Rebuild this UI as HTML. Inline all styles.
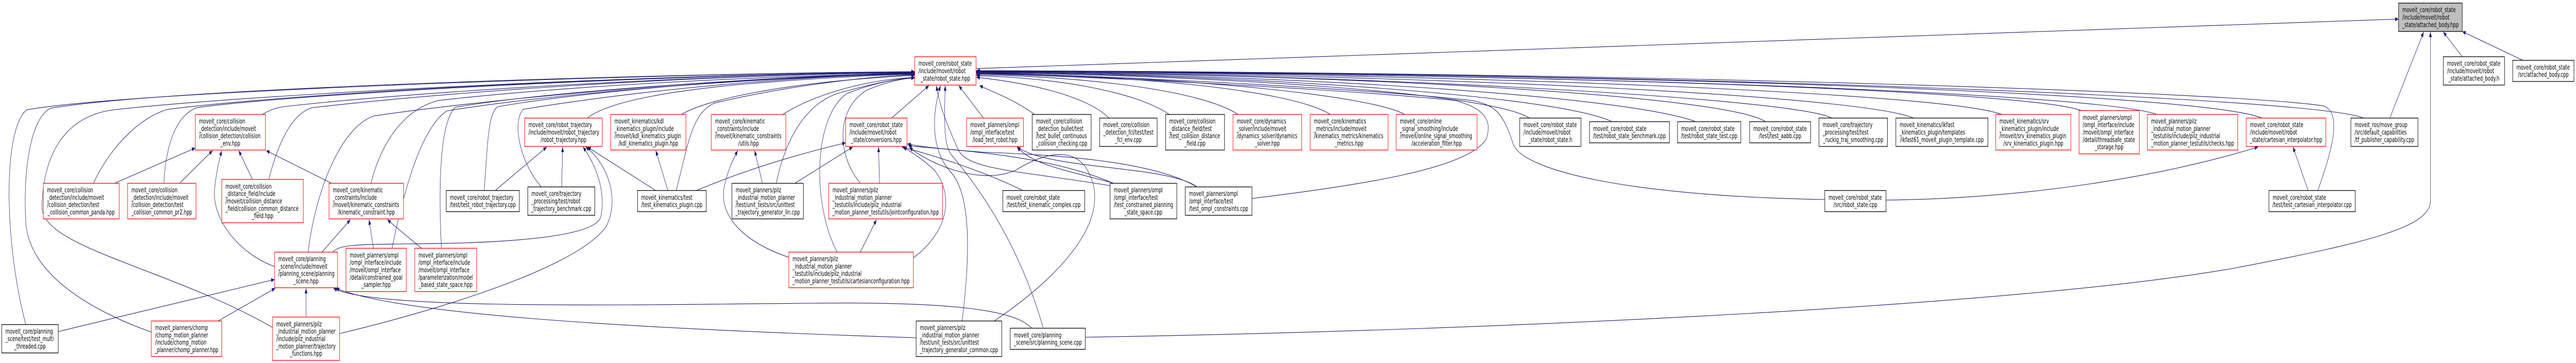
<!DOCTYPE html>
<html><head><meta charset="utf-8"><style>
html,body{margin:0;padding:0;background:#fff;overflow:hidden;}
svg{display:block;width:100vw;height:704px;}
.r{fill:#fff;stroke:#ff0000;stroke-width:1.3}
.b{fill:#fff;stroke:#000;stroke-width:1.3}
.g{fill:#bfbfbf;stroke:#000;stroke-width:1.3}
text{font-family:"DejaVu Sans","Liberation Sans",sans-serif;font-size:13px;fill:#000}
.m{text-anchor:middle}
.e{fill:none;stroke:#191970;stroke-width:1.1}
</style></head><body>
<svg viewBox="0 0 7609 704" preserveAspectRatio="none" xmlns="http://www.w3.org/2000/svg">
<defs><marker id="a" markerUnits="userSpaceOnUse" markerWidth="12" markerHeight="9" refX="10" refY="4" orient="auto" overflow="visible"><path d="M0,0 L10,4 L0,8 z" fill="#191970"/></marker></defs>
<g class="e" marker-end="url(#a)">
<path d="M76,629 C12,470 8,250 79,213 C400,175 2000,142 2702,139"/>
<path d="M447,644 C300,610 85,540 76,430 C68,330 90,230 149,210 C500,170 2000,142 2702,139"/>
<path d="M805,635 C500,520 120,480 124,400 C128,300 190,222 348,212 C800,180 2000,143 2702,140"/>
<path d="M276,355 C330,280 420,225 497,212 C900,178 2000,143 2702,140"/>
<path d="M484,355 C490,280 520,225 580,209 C900,180 2000,144 2702,140"/>
<path d="M775,222 C800,212 820,208 850,206 C1200,180 2000,146 2702,141"/>
<path d="M794,348 C820,280 860,222 920,209 C1300,180 2000,146 2702,141"/>
<path d="M910,489 C930,380 1000,250 1103,225 C1400,196 2100,150 2702,142"/>
<path d="M1096,355 C1120,290 1180,215 1294,195 C1600,172 2100,150 2702,142"/>
<path d="M1158,481 C1190,380 1240,250 1320,215 C1600,185 2150,152 2702,143"/>
<path d="M1304,481 C1296,380 1295,240 1345,208 C1600,180 2150,152 2702,143"/>
<path d="M1735,229 C1800,195 2000,175 2200,163 C2400,152 2600,145 2702,144"/>
<path d="M1430,370 C1440,290 1440,220 1470,207 C1700,180 2200,150 2702,141"/>
<path d="M1600,363 C1540,320 1510,240 1545,212 C1800,185 2200,152 2702,142"/>
<path d="M2013,222 C2080,195 2300,160 2702,146"/>
<path d="M1997,370 C2030,290 2040,220 2110,200 C2300,170 2550,148 2702,145"/>
<path d="M2312,222 C2400,185 2550,155 2702,150"/>
<path d="M2293,355 C2320,270 2380,200 2480,180 C2580,162 2650,152 2702,151"/>
<path d="M2541,355 C2470,300 2470,210 2560,175 C2620,158 2670,152 2702,151"/>
<path d="M2473,489 C2400,400 2400,230 2500,182 C2580,160 2660,152 2702,151"/>
<path d="M2635,228 L2744,166"/>
<path d="M2905,229 L2832,166"/>
<path d="M2842,622 C2865,500 2870,380 2810,335 C2760,300 2745,240 2778,166"/>
<path d="M3081,635 C3000,450 2860,340 2810,300 C2785,280 2790,220 2792,166"/>
<path d="M3279,360 C3000,330 2860,330 2830,290 C2810,260 2775,210 2766,166"/>
<path d="M3056,222 C3000,195 2940,180 2893,166"/>
<path d="M3276,229 C3200,180 3000,158 2884,150"/>
<path d="M3454,222 C3350,175 3100,150 2884,147"/>
<path d="M3657,222 C3550,175 3200,148 2884,145"/>
<path d="M3930,222 C3800,170 3300,145 2884,143"/>
<path d="M4149,222 C4050,185 3500,148 2884,142"/>
<path d="M4518,229 C4400,180 3600,146 2884,141"/>
<path d="M4762,236 C4600,185 3700,145 2884,140"/>
<path d="M5009,236 C4800,185 3800,144 2884,140"/>
<path d="M5215,236 C5100,185 4000,144 2884,139"/>
<path d="M5411,229 C5300,190 4000,143 2884,139"/>
<path d="M5652,229 C5500,185 4200,143 2884,139"/>
<path d="M5913,222 C5750,180 4300,142 2884,138"/>
<path d="M6150,215 C6000,175 4500,142 2884,138"/>
<path d="M6371,222 C6200,180 4600,142 2884,138"/>
<path d="M6682,229 C6500,180 4800,141 2884,138"/>
<path d="M6981,229 C6850,190 5000,141 2884,137"/>
<path d="M6846,370 C6890,290 6920,215 6860,205 C6600,180 5000,141 2884,137"/>
<path d="M5390,387 C4800,380 4500,330 4470,280 C4440,220 4420,205 4350,195 C4000,170 3300,148 2884,141"/>
<path d="M3698,385 C4000,360 4330,330 4390,270 C4410,230 4380,210 4300,195 C4000,175 3300,150 2884,143"/>
<path d="M3206,654 C4500,640 6000,590 6600,520 C7000,470 7179,440 7179,390 L7179,62"/>
<path d="M7059,229 L7159,62"/>
<path d="M7273,110 L7217,62"/>
<path d="M7452,117 L7273,61"/>
<path d="M2884,133 L7085,37"/>
<path d="M5571,388 C6000,385 6400,340 6670,285"/>
<path d="M6818,370 L6773,285"/>
<path d="M340,355 L577,287"/>
<path d="M531,355 L628,292"/>
<path d="M746,348 L705,292"/>
<path d="M978,355 L786,292"/>
<path d="M811,517 C700,490 620,420 635,360 C640,330 648,310 655,292"/>
<path d="M951,489 L1035,426"/>
<path d="M1103,481 L1090,426"/>
<path d="M1244,481 L1144,426"/>
<path d="M172,643 L811,542"/>
<path d="M643,623 L813,559"/>
<path d="M904,615 L904,559"/>
<path d="M3048,637 C3000,600 2800,585 2400,588 C1800,592 1100,600 985,559"/>
<path d="M2706,655 C2000,640 1200,615 992,559"/>
<path d="M1462,370 L1615,285"/>
<path d="M1659,363 L1662,285"/>
<path d="M1938,370 L1735,285"/>
<path d="M983,489 C1000,475 1050,474 1200,473 C1500,472 1760,460 1775,420 C1790,370 1760,320 1722,285"/>
<path d="M1003,647 C1300,600 1700,520 1790,440 C1830,390 1800,320 1730,285"/>
<path d="M1973,370 L1937,292"/>
<path d="M2055,370 C2200,330 2350,300 2498,277"/>
<path d="M2330,499 C2200,470 2120,420 2140,360 C2150,330 2165,310 2179,292"/>
<path d="M2252,355 L2229,292"/>
<path d="M2349,355 L2519,285"/>
<path d="M2598,355 L2595,285"/>
<path d="M3023,370 C2900,330 2750,300 2664,285"/>
<path d="M3290,356 C3100,300 2800,290 2683,283"/>
<path d="M3537,363 C3400,310 3100,300 2900,295 C2800,290 2720,285 2680,279"/>
<path d="M2698,500 C2800,450 2820,380 2760,330 C2720,305 2690,295 2668,285"/>
<path d="M2936,623 C3100,550 3260,450 3230,360 C3200,280 3100,290 3000,330 C2900,360 2750,320 2686,286"/>
<path d="M2541,489 L2589,426"/>
<path d="M3288,355 C3150,330 3050,320 3004,285"/>
<path d="M3537,363 C3450,320 3100,330 3004,285"/>
</g>

<rect class="g" x="7085" y="6" width="188" height="55"/>
<text><tspan x="7096" y="23.7">moveit_core/robot_state</tspan><tspan x="7096" y="38">/include/moveit/robot</tspan><tspan x="7179" y="52.3" class="m">_state/attached_body.hpp</tspan></text>

<rect class="r" x="2702" y="110" width="181" height="55"/>
<text><tspan x="2713" y="127.7">moveit_core/robot_state</tspan><tspan x="2713" y="142">/include/moveit/robot</tspan><tspan x="2792.5" y="156.3" class="m">_state/robot_state.hpp</tspan></text>

<rect class="b" x="7217" y="110" width="181" height="55"/>
<text><tspan x="7228" y="127.7">moveit_core/robot_state</tspan><tspan x="7228" y="142">/include/moveit/robot</tspan><tspan x="7307.5" y="156.3" class="m">_state/attached_body.h</tspan></text>

<rect class="b" x="7422" y="117" width="181" height="41"/>
<text><tspan x="7433" y="134.9">moveit_core/robot_state</tspan><tspan x="7512.5" y="149.2" class="m">/src/attached_body.cpp</tspan></text>

<rect class="r" x="577" y="222" width="207" height="69"/>
<text><tspan x="588" y="239.6">moveit_core/collision</tspan><tspan x="588" y="253.9">_detection/include/moveit</tspan><tspan x="588" y="268.2">/collision_detection/collision</tspan><tspan x="680.5" y="282.5" class="m">_env.hpp</tspan></text>

<rect class="r" x="1550" y="229" width="229" height="55"/>
<text><tspan x="1561" y="246.7">moveit_core/robot_trajectory</tspan><tspan x="1561" y="261">/include/moveit/robot_trajectory</tspan><tspan x="1664.5" y="275.3" class="m">/robot_trajectory.hpp</tspan></text>

<rect class="r" x="1804" y="222" width="222" height="69"/>
<text><tspan x="1815" y="239.6">moveit_kinematics/kdl</tspan><tspan x="1815" y="253.9">_kinematics_plugin/include</tspan><tspan x="1815" y="268.2">/moveit/kdl_kinematics_plugin</tspan><tspan x="1915" y="282.5" class="m">/kdl_kinematics_plugin.hpp</tspan></text>

<rect class="r" x="2101" y="222" width="220" height="69"/>
<text><tspan x="2112" y="239.6">moveit_core/kinematic</tspan><tspan x="2112" y="253.9">_constraints/include</tspan><tspan x="2112" y="268.2">/moveit/kinematic_constraints</tspan><tspan x="2211" y="282.5" class="m">/utils.hpp</tspan></text>

<rect class="r" x="2498" y="229" width="181" height="55"/>
<text><tspan x="2509" y="246.7">moveit_core/robot_state</tspan><tspan x="2509" y="261">/include/moveit/robot</tspan><tspan x="2588.5" y="275.3" class="m">_state/conversions.hpp</tspan></text>

<rect class="r" x="2855" y="229" width="168" height="55"/>
<text><tspan x="2866" y="246.7">moveit_planners/ompl</tspan><tspan x="2866" y="261">/ompl_interface/test</tspan><tspan x="2939" y="275.3" class="m">/load_test_robot.hpp</tspan></text>

<rect class="b" x="3049" y="222" width="174" height="69"/>
<text><tspan x="3060" y="239.6">moveit_core/collision</tspan><tspan x="3060" y="253.9">_detection_bullet/test</tspan><tspan x="3060" y="268.2">/test_bullet_continuous</tspan><tspan x="3136" y="282.5" class="m">_collision_checking.cpp</tspan></text>

<rect class="b" x="3248" y="229" width="170" height="55"/>
<text><tspan x="3259" y="246.7">moveit_core/collision</tspan><tspan x="3259" y="261">_detection_fcl/test/test</tspan><tspan x="3333" y="275.3" class="m">_fcl_env.cpp</tspan></text>

<rect class="b" x="3443" y="222" width="174" height="69"/>
<text><tspan x="3454" y="239.6">moveit_core/collision</tspan><tspan x="3454" y="253.9">_distance_field/test</tspan><tspan x="3454" y="268.2">/test_collision_distance</tspan><tspan x="3530" y="282.5" class="m">_field.cpp</tspan></text>

<rect class="r" x="3642" y="222" width="203" height="69"/>
<text><tspan x="3653" y="239.6">moveit_core/dynamics</tspan><tspan x="3653" y="253.9">_solver/include/moveit</tspan><tspan x="3653" y="268.2">/dynamics_solver/dynamics</tspan><tspan x="3743.5" y="282.5" class="m">_solver.hpp</tspan></text>

<rect class="r" x="3870" y="222" width="230" height="69"/>
<text><tspan x="3881" y="239.6">moveit_core/kinematics</tspan><tspan x="3881" y="253.9">_metrics/include/moveit</tspan><tspan x="3881" y="268.2">/kinematics_metrics/kinematics</tspan><tspan x="3985" y="282.5" class="m">_metrics.hpp</tspan></text>

<rect class="r" x="4124" y="222" width="239" height="69"/>
<text><tspan x="4135" y="239.6">moveit_core/online</tspan><tspan x="4135" y="253.9">_signal_smoothing/include</tspan><tspan x="4135" y="268.2">/moveit/online_signal_smoothing</tspan><tspan x="4243.5" y="282.5" class="m">/acceleration_filter.hpp</tspan></text>

<rect class="b" x="4489" y="229" width="181" height="55"/>
<text><tspan x="4500" y="246.7">moveit_core/robot_state</tspan><tspan x="4500" y="261">/include/moveit/robot</tspan><tspan x="4579.5" y="275.3" class="m">_state/robot_state.h</tspan></text>

<rect class="b" x="4695" y="236" width="236" height="41"/>
<text><tspan x="4706" y="253.9">moveit_core/robot_state</tspan><tspan x="4813" y="268.2" class="m">/test/robot_state_benchmark.cpp</tspan></text>

<rect class="b" x="4955" y="236" width="187" height="41"/>
<text><tspan x="4966" y="253.9">moveit_core/robot_state</tspan><tspan x="5048.5" y="268.2" class="m">/test/robot_state_test.cpp</tspan></text>

<rect class="b" x="5168" y="236" width="180" height="41"/>
<text><tspan x="5179" y="253.9">moveit_core/robot_state</tspan><tspan x="5258" y="268.2" class="m">/test/test_aabb.cpp</tspan></text>

<rect class="b" x="5373" y="229" width="202" height="55"/>
<text><tspan x="5384" y="246.7">moveit_core/trajectory</tspan><tspan x="5384" y="261">_processing/test/test</tspan><tspan x="5474" y="275.3" class="m">_ruckig_traj_smoothing.cpp</tspan></text>

<rect class="b" x="5600" y="229" width="272" height="55"/>
<text><tspan x="5611" y="246.7">moveit_kinematics/ikfast</tspan><tspan x="5611" y="261">_kinematics_plugin/templates</tspan><tspan x="5736" y="275.3" class="m">/ikfast61_moveit_plugin_template.cpp</tspan></text>

<rect class="r" x="5895" y="222" width="222" height="69"/>
<text><tspan x="5906" y="239.6">moveit_kinematics/srv</tspan><tspan x="5906" y="253.9">_kinematics_plugin/include</tspan><tspan x="5906" y="268.2">/moveit/srv_kinematics_plugin</tspan><tspan x="6006" y="282.5" class="m">/srv_kinematics_plugin.hpp</tspan></text>

<rect class="r" x="6141" y="214.5" width="178" height="84"/>
<text><tspan x="6152" y="232.4">moveit_planners/ompl</tspan><tspan x="6152" y="246.7">/ompl_interface/include</tspan><tspan x="6152" y="261">/moveit/ompl_interface</tspan><tspan x="6152" y="275.3">/detail/threadsafe_state</tspan><tspan x="6230" y="289.6" class="m">_storage.hpp</tspan></text>

<rect class="r" x="6343" y="222" width="267" height="69"/>
<text><tspan x="6354" y="239.6">moveit_planners/pilz</tspan><tspan x="6354" y="253.9">_industrial_motion_planner</tspan><tspan x="6354" y="268.2">_testutils/include/pilz_industrial</tspan><tspan x="6476.5" y="282.5" class="m">_motion_planner_testutils/checks.hpp</tspan></text>

<rect class="r" x="6635" y="229" width="235" height="55"/>
<text><tspan x="6646" y="246.7">moveit_core/robot_state</tspan><tspan x="6646" y="261">/include/moveit/robot</tspan><tspan x="6752.5" y="275.3" class="m">_state/cartesian_interpolator.hpp</tspan></text>

<rect class="b" x="6944" y="229" width="198" height="55"/>
<text><tspan x="6955" y="246.7">moveit_ros/move_group</tspan><tspan x="6955" y="261">/src/default_capabilities</tspan><tspan x="7043" y="275.3" class="m">/tf_publisher_capability.cpp</tspan></text>

<rect class="r" x="128" y="355.5" width="224" height="69"/>
<text><tspan x="139" y="373.1">moveit_core/collision</tspan><tspan x="139" y="387.4">_detection/include/moveit</tspan><tspan x="139" y="401.7">/collision_detection/test</tspan><tspan x="240" y="416" class="m">_collision_common_panda.hpp</tspan></text>

<rect class="r" x="377" y="355.5" width="202" height="69"/>
<text><tspan x="388" y="373.1">moveit_core/collision</tspan><tspan x="388" y="387.4">_detection/include/moveit</tspan><tspan x="388" y="401.7">/collision_detection/test</tspan><tspan x="478" y="416" class="m">_collision_common_pr2.hpp</tspan></text>

<rect class="r" x="655" y="348" width="241" height="84"/>
<text><tspan x="666" y="365.9">moveit_core/collision</tspan><tspan x="666" y="380.2">_distance_field/include</tspan><tspan x="666" y="394.5">/moveit/collision_distance</tspan><tspan x="666" y="408.8">_field/collision_common_distance</tspan><tspan x="775.5" y="423.1" class="m">_field.hpp</tspan></text>

<rect class="r" x="972" y="355.5" width="220" height="69"/>
<text><tspan x="983" y="373.1">moveit_core/kinematic</tspan><tspan x="983" y="387.4">_constraints/include</tspan><tspan x="983" y="401.7">/moveit/kinematic_constraints</tspan><tspan x="1082" y="416" class="m">/kinematic_constraint.hpp</tspan></text>

<rect class="b" x="1318" y="369.5" width="216" height="41"/>
<text><tspan x="1329" y="387.4">moveit_core/robot_trajectory</tspan><tspan x="1426" y="401.7" class="m">/test/test_robot_trajectory.cpp</tspan></text>

<rect class="b" x="1559" y="362.5" width="198" height="55"/>
<text><tspan x="1570" y="380.2">moveit_core/trajectory</tspan><tspan x="1570" y="394.5">_processing/test/robot</tspan><tspan x="1658" y="408.8" class="m">_trajectory_benchmark.cpp</tspan></text>

<rect class="b" x="1883" y="369.5" width="203" height="41"/>
<text><tspan x="1894" y="387.4">moveit_kinematics/test</tspan><tspan x="1984.5" y="401.7" class="m">/test_kinematics_plugin.cpp</tspan></text>

<rect class="b" x="2162" y="355.5" width="211" height="69"/>
<text><tspan x="2173" y="373.1">moveit_planners/pilz</tspan><tspan x="2173" y="387.4">_industrial_motion_planner</tspan><tspan x="2173" y="401.7">/test/unit_tests/src/unittest</tspan><tspan x="2267.5" y="416" class="m">_trajectory_generator_lin.cpp</tspan></text>

<rect class="r" x="2448" y="355.5" width="336" height="69"/>
<text><tspan x="2459" y="373.1">moveit_planners/pilz</tspan><tspan x="2459" y="387.4">_industrial_motion_planner</tspan><tspan x="2459" y="401.7">_testutils/include/pilz_industrial</tspan><tspan x="2616" y="416" class="m">_motion_planner_testutils/jointconfiguration.hpp</tspan></text>

<rect class="b" x="2962" y="369.5" width="242" height="41"/>
<text><tspan x="2973" y="387.4">moveit_core/robot_state</tspan><tspan x="3083" y="401.7" class="m">/test/test_kinematic_complex.cpp</tspan></text>

<rect class="b" x="3279" y="355.5" width="197" height="69"/>
<text><tspan x="3290" y="373.1">moveit_planners/ompl</tspan><tspan x="3290" y="387.4">/ompl_interface/test</tspan><tspan x="3290" y="401.7">/test_constrained_planning</tspan><tspan x="3377.5" y="416" class="m">_state_space.cpp</tspan></text>

<rect class="b" x="3501" y="362.5" width="197" height="55"/>
<text><tspan x="3512" y="380.2">moveit_planners/ompl</tspan><tspan x="3512" y="394.5">/ompl_interface/test</tspan><tspan x="3599.5" y="408.8" class="m">/test_ompl_constraints.cpp</tspan></text>

<rect class="b" x="5390" y="369.5" width="181" height="41"/>
<text><tspan x="5401" y="387.4">moveit_core/robot_state</tspan><tspan x="5480.5" y="401.7" class="m">/src/robot_state.cpp</tspan></text>

<rect class="b" x="6702" y="369.5" width="255" height="41"/>
<text><tspan x="6713" y="387.4">moveit_core/robot_state</tspan><tspan x="6829.5" y="401.7" class="m">/test/test_cartesian_interpolator.cpp</tspan></text>

<rect class="r" x="811" y="489" width="186" height="69"/>
<text><tspan x="822" y="506.6">moveit_core/planning</tspan><tspan x="822" y="520.9">_scene/include/moveit</tspan><tspan x="822" y="535.2">/planning_scene/planning</tspan><tspan x="904" y="549.5" class="m">_scene.hpp</tspan></text>

<rect class="r" x="1022" y="481.5" width="178" height="84"/>
<text><tspan x="1033" y="499.4">moveit_planners/ompl</tspan><tspan x="1033" y="513.7">/ompl_interface/include</tspan><tspan x="1033" y="528">/moveit/ompl_interface</tspan><tspan x="1033" y="542.3">/detail/constrained_goal</tspan><tspan x="1111" y="556.6" class="m">_sampler.hpp</tspan></text>

<rect class="r" x="1225" y="481.5" width="183" height="84"/>
<text><tspan x="1236" y="499.4">moveit_planners/ompl</tspan><tspan x="1236" y="513.7">/ompl_interface/include</tspan><tspan x="1236" y="528">/moveit/ompl_interface</tspan><tspan x="1236" y="542.3">/parameterization/model</tspan><tspan x="1316.5" y="556.6" class="m">_based_state_space.hpp</tspan></text>

<rect class="r" x="2330" y="489" width="368" height="69"/>
<text><tspan x="2341" y="506.6">moveit_planners/pilz</tspan><tspan x="2341" y="520.9">_industrial_motion_planner</tspan><tspan x="2341" y="535.2">_testutils/include/pilz_industrial</tspan><tspan x="2514" y="549.5" class="m">_motion_planner_testutils/cartesianconfiguration.hpp</tspan></text>

<rect class="b" x="5" y="629.5" width="167" height="55"/>
<text><tspan x="16" y="647.2">moveit_core/planning</tspan><tspan x="16" y="661.5">_scene/test/test_multi</tspan><tspan x="88.5" y="675.8" class="m">_threaded.cpp</tspan></text>

<rect class="r" x="447" y="622.5" width="208" height="69"/>
<text><tspan x="458" y="640.1">moveit_planners/chomp</tspan><tspan x="458" y="654.4">/chomp_motion_planner</tspan><tspan x="458" y="668.7">/include/chomp_motion</tspan><tspan x="551" y="683" class="m">_planner/chomp_planner.hpp</tspan></text>

<rect class="r" x="805" y="615" width="198" height="84"/>
<text><tspan x="816" y="632.9">moveit_planners/pilz</tspan><tspan x="816" y="647.2">_industrial_motion_planner</tspan><tspan x="816" y="661.5">/include/pilz_industrial</tspan><tspan x="816" y="675.8">_motion_planner/trajectory</tspan><tspan x="904" y="690.1" class="m">_functions.hpp</tspan></text>

<rect class="b" x="2706" y="622.5" width="253" height="69"/>
<text><tspan x="2717" y="640.1">moveit_planners/pilz</tspan><tspan x="2717" y="654.4">_industrial_motion_planner</tspan><tspan x="2717" y="668.7">/test/unit_tests/src/unittest</tspan><tspan x="2832.5" y="683" class="m">_trajectory_generator_common.cpp</tspan></text>

<rect class="b" x="2984" y="636.5" width="222" height="41"/>
<text><tspan x="2995" y="654.4">moveit_core/planning</tspan><tspan x="3095" y="668.7" class="m">_scene/src/planning_scene.cpp</tspan></text>
</svg>
</body></html>
